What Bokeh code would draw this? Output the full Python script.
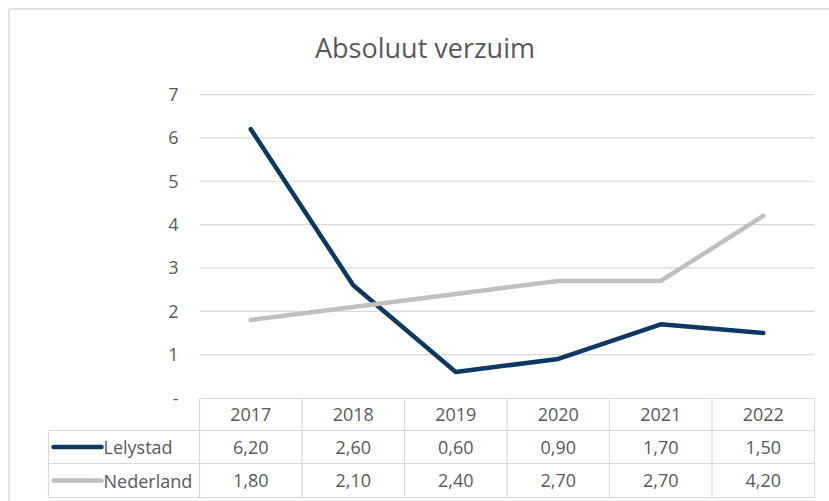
from bokeh.plotting import figure
from bokeh.models import Range1d, Label
from bokeh.embed import file_html
from bokeh.resources import INLINE
from bokeh.core.properties import value

# ---- data ----
years = ["2017", "2018", "2019", "2020", "2021", "2022"]
lelystad = [6.20, 2.60, 0.60, 0.90, 1.70, 1.50]
nederland = [1.80, 2.10, 2.40, 2.70, 2.70, 4.20]
series_names = ["Lelystad", "Nederland"]
y_ticks = [0, 1, 2, 3, 4, 5, 6, 7]
y_tick_labels = ["-", "1", "2", "3", "4", "5", "6", "7"]
title_text = "Absoluut verzuim"

# ---- layout (pixels in page; figure observed at page origin) ----
W, H = 829, 501
OX, OY = 0, 0
BORDER_X, BORDER_Y = 8.5, 8.5
PLOT_LEFT = 199.0
COL_W = 102.5
Y0_PAGE = 397.5
PX_PER_UNIT = 43.35
TABLE_LEFT = 48.0
ROW_EDGES = [398.0, 430.0, 463.0, 497.0]

def xi(page_x):
    return (page_x - (PLOT_LEFT + COL_W / 2)) / COL_W

def yv(page_y):
    return (Y0_PAGE - page_y) / PX_PER_UNIT

FONT = "Open Sans"
TXT = "#595959"
GRID = "#d9d9d9"
NAVY = "#0c3864"
GRAY = "#bfbfbf"

p = figure(width=W, height=H, output_backend="svg", toolbar_location=None,
           x_range=Range1d(xi(OX), xi(OX + W)),
           y_range=Range1d(yv(OY + H), yv(OY)),
           min_border=0, min_border_left=0, min_border_right=0,
           min_border_top=0, min_border_bottom=0)
p.axis.visible = False
p.grid.visible = False
p.outline_line_color = None
p.background_fill_color = "white"
p.border_fill_color = "white"

n = len(years)
xs = list(range(n))
x_lo, x_hi = -0.5, n - 0.5

# outer border (top and left)
p.segment(x0=[xi(BORDER_X)], y0=[yv(BORDER_Y)], x1=[xi(OX + W)], y1=[yv(BORDER_Y)],
          line_color=GRID, line_width=1.5)
p.segment(x0=[xi(BORDER_X)], y0=[yv(BORDER_Y)], x1=[xi(BORDER_X)], y1=[yv(OY + H)],
          line_color=GRID, line_width=1.5)

# gridlines
gl = [t for t in y_ticks if t > 0]
p.segment(x0=[x_lo] * len(gl), y0=gl, x1=[x_hi] * len(gl), y1=gl,
          line_color=GRID, line_width=1.2)

# y tick labels
p.text(x=[xi(178)] * len(y_ticks), y=y_ticks, text=y_tick_labels,
       text_font=value(FONT), text_font_size="18px", text_color=TXT,
       text_align="right", text_baseline="middle")

# title
p.add_layout(Label(x=xi(424.5), y=yv(47), text=title_text, text_font=FONT,
                   text_font_size="27px", text_color=TXT,
                   text_align="center", text_baseline="middle"))

# table lines
ry = [yv(r) for r in ROW_EDGES]
tl = xi(TABLE_LEFT)
p.segment(x0=[x_lo], y0=[ry[0]], x1=[x_hi], y1=[ry[0]], line_color=GRID, line_width=1.2)
p.segment(x0=[tl] * 3, y0=ry[1:], x1=[x_hi] * 3, y1=ry[1:], line_color=GRID, line_width=1.2)
vx = [x_lo + k for k in range(n + 1)]
p.segment(x0=vx, y0=[ry[0]] * len(vx), x1=vx, y1=[ry[3]] * len(vx),
          line_color=GRID, line_width=1.2)
p.segment(x0=[tl], y0=[ry[1]], x1=[tl], y1=[ry[3]], line_color=GRID, line_width=1.2)

# table text
row_c = [(ry[i] + ry[i + 1]) / 2 for i in range(3)]
p.text(x=xs, y=[row_c[0]] * n, text=years, text_font=value(FONT), text_font_size="18px",
       text_color=TXT, text_align="center", text_baseline="middle")
fmt = lambda v: f"{v:.2f}".replace(".", ",")
for r, vals in enumerate([lelystad, nederland]):
    p.text(x=xs, y=[row_c[r + 1]] * n, text=[fmt(v) for v in vals],
           text_font=value(FONT), text_font_size="18px", text_color=TXT,
           text_align="center", text_baseline="middle")

# legend keys in table
colors = [NAVY, GRAY]
for r, (name, c) in enumerate(zip(series_names, colors)):
    yc = row_c[r + 1]
    p.line(x=[xi(53), xi(101)], y=[yc, yc], line_color=c, line_width=4.5, line_cap="round")
    p.text(x=[xi(103)], y=[yc], text=[name], text_font=value(FONT), text_font_size="18px",
           text_color=TXT, text_align="left", text_baseline="middle")

# series lines
p.line(x=xs, y=lelystad, line_color=NAVY, line_width=4.5, line_cap="round", line_join="round")
p.line(x=xs, y=nederland, line_color=GRAY, line_width=4.5, line_cap="round", line_join="round")

open("out.html", "w").write(file_html(p, INLINE))
